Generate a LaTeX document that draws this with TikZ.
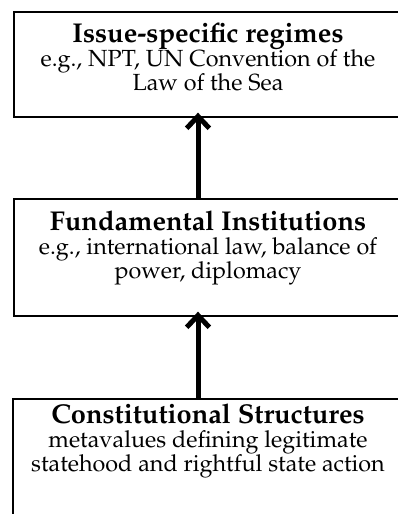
\documentclass[tikz,border=0pt]{standalone}
\usepackage[T1]{fontenc}
\usetikzlibrary{arrows.meta}
\begin{document}
\begin{tikzpicture}[x=0.75pt,y=-0.75pt,
  box/.style={draw=black,line width=1.5pt,minimum width=390*0.75pt,anchor=north west,inner sep=0pt},
  txt/.style={inner sep=0pt,font=\fontencoding{T1}\fontfamily{ppl}\fontsize{17.5}{18}\selectfont,anchor=base},
  ttl/.style={inner sep=0pt,font=\fontencoding{T1}\fontfamily{ppl}\fontsize{20.4}{22}\selectfont\bfseries,anchor=base},
  arr/.style={line width=3.75pt,-{Straight Barb[length=9pt,width=17pt]},shorten >=-4pt}]
\useasboundingbox (0,0) rectangle (397,514);
\node[box,minimum height=105*0.75pt] (top) at (13,11) {};
\node[box,minimum height=117*0.75pt] (mid) at (13,198) {};
\draw[line width=1.5pt] (13,540) -- (13,399) -- (403,399) -- (403,540);
\coordinate (bot) at (208,399);
\node[ttl] (t1a) at (208,42) {Issue-specific regimes};
\node[txt] (t1b) at (208,66) {e.g., NPT, UN Convention of the};
\node[txt] (t1c) at (208,90) {Law of the Sea};
\node[ttl] (t2a) at (208,230) {Fundamental Institutions};
\node[txt] (t2b) at (208,254) {e.g., international law, balance of};
\node[txt] (t2c) at (208,278) {power, diplomacy};
\node[ttl] (t3a) at (208,423) {Constitutional Structures};
\node[txt] (t3b) at (208,447) {metavalues defining legitimate};
\node[txt] (t3c) at (208,471) {statehood and rightful state action};
\coordinate (ax) at (198,0);
\draw[arr] (mid.north -| ax) -- (top.south -| ax);
\draw[arr] (bot -| ax) -- (mid.south -| ax);
\end{tikzpicture}
\end{document}
